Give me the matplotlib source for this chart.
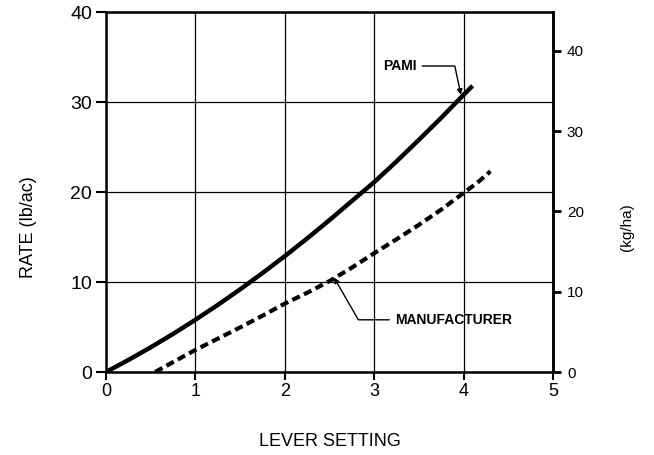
import matplotlib
matplotlib.use("Agg")
import matplotlib.pyplot as plt

# Data (lever setting vs rate in lb/ac)
pami_x = [0.0, 0.25, 0.5, 0.75, 1.0, 1.25, 1.5, 1.75, 2.0, 2.25, 2.5, 2.75,
          3.0, 3.25, 3.5, 3.75, 4.0, 4.1]
pami_y = [0.0, 1.33, 2.74, 4.23, 5.8, 7.45, 9.18, 10.99, 12.87, 14.84, 16.88, 19.0,
          21.1, 23.4, 25.8, 28.25, 30.8, 31.8]
manuf_x = [0.55, 0.75, 1.0, 1.25, 1.5, 1.75, 2.0, 2.25, 2.5, 2.75, 3.0, 3.25,
           3.5, 3.75, 4.0, 4.15, 4.3]
manuf_y = [0.0, 1.1, 2.45, 3.7, 4.95, 6.25, 7.6, 8.8, 10.1, 11.6, 13.2, 14.75,
           16.35, 18.05, 19.9, 21.0, 22.3]

x_ticks = [0, 1, 2, 3, 4, 5]
y_ticks = [0, 10, 20, 30, 40]
kg_ticks = [0, 10, 20, 30, 40]
LB_TO_KG = 1.121

plt.rcParams["font.family"] = ["Liberation Sans", "DejaVu Sans"]

fig = plt.figure(figsize=(6.54, 4.55), dpi=100)
ax = fig.add_axes([0.162, 0.1824, 0.6836, 0.7912])

ax.plot(pami_x, pami_y, color="black", lw=3.2, solid_capstyle="butt")
ax.plot(manuf_x, manuf_y, color="black", lw=3.0, dashes=(2.0, 1.1))

ax.set_xlim(0, 5)
ax.set_ylim(0, 40)
ax.set_xticks(x_ticks)
ax.set_yticks(y_ticks)
ax.grid(True, color="black", lw=0.9)
for s in ax.spines.values():
    s.set_linewidth(1.8)
ax.tick_params(axis="x", direction="out", length=6, width=1.5, labelsize=13, pad=2)
ax.tick_params(axis="y", direction="out", length=7, width=1.5, labelsize=14, pad=3)

sec = ax.secondary_yaxis("right", functions=(lambda v: v * LB_TO_KG, lambda v: v / LB_TO_KG))
sec.set_yticks(kg_ticks)
sec.spines["right"].set_linewidth(1.8)
sec.tick_params(direction="out", length=6, width=2, labelsize=11, pad=4)

fig.text(0.043, 0.50, "RATE (lb/ac)", rotation=90, ha="center", va="center", fontsize=13)
fig.text(0.958, 0.50, "(kg/ha)", rotation=90, ha="center", va="center", fontsize=11)
fig.text(0.505, 0.030, "LEVER SETTING", ha="center", va="center", fontsize=13)

# PAMI leader
ax.annotate("PAMI", xy=(3.97, 30.8), xytext=(3.10, 34.0), fontsize=10, fontweight="bold",
            va="center", ha="left",
            arrowprops=dict(arrowstyle="-|>", color="black", lw=1.0, mutation_scale=8,
                            connectionstyle="angle,angleA=0,angleB=102,rad=0",
                            shrinkA=2, shrinkB=0))
# MANUFACTURER leader
ax.annotate("MANUFACTURER", xy=(2.55, 10.5), xytext=(3.23, 5.8), fontsize=10, fontweight="bold",
            va="center", ha="left",
            arrowprops=dict(arrowstyle="-|>", color="black", lw=1.0, mutation_scale=8,
                            connectionstyle="angle,angleA=180,angleB=120,rad=0",
                            shrinkA=2, shrinkB=0))

fig.savefig("out.png", dpi=100, facecolor="white")
